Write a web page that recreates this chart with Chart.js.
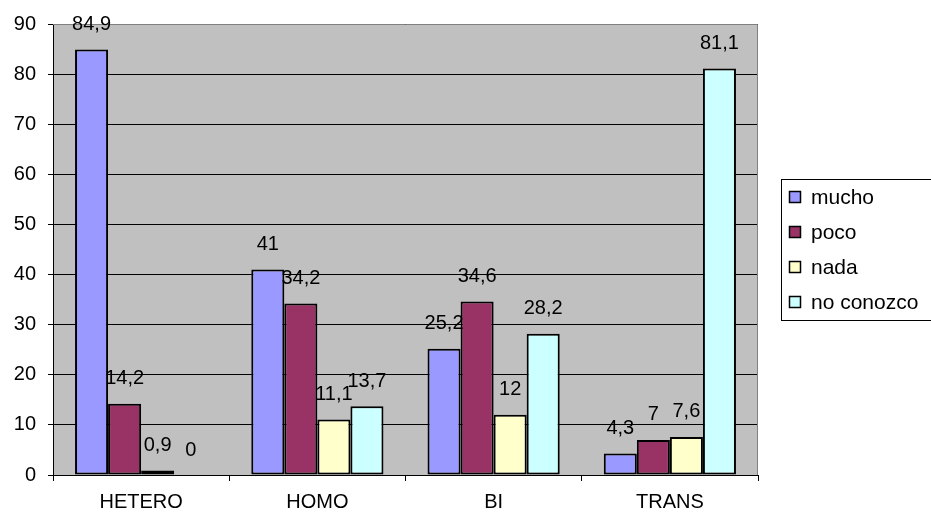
<!DOCTYPE html>
<html>
<head>
<meta charset="utf-8">
<script src="https://cdn.jsdelivr.net/npm/chart.js@4/dist/chart.umd.min.js"></script>
<style>
  html, body { margin: 0; padding: 0; background: #fff; }
  #wrap { width: 931px; height: 514px; }
</style>
</head>
<body>
<div id="wrap"><canvas id="myChart" width="931" height="514"></canvas></div>
<script>
const categories = ['HETERO', 'HOMO', 'BI', 'TRANS']
const seriesNames = ['mucho', 'poco', 'nada', 'no conozco']
const mucho = [84.9, 41, 25.2, 4.3]
const poco = [14.2, 34.2, 34.6, 7]
const nada = [0.9, 11.1, 12, 7.6]
const noConozco = [0, 13.7, 28.2, 81.1]
const yTicks = [0, 10, 20, 30, 40, 50, 60, 70, 80, 90]

const colors = ['#9999FF', '#993366', '#FFFFCC', '#CCFFFF']
const font = 'Liberation Sans, Arial, sans-serif'

const fmt = v => String(v).replace('.', ',')

// gray plot background + gray top/right border
const plotBg = {
  id: 'plotBg',
  beforeDraw(chart) {
    let {ctx, chartArea: a} = chart
    ctx.save()
    ctx.fillStyle = '#C0C0C0'
    ctx.fillRect(a.left, a.top, a.right - a.left, a.bottom - a.top)
    ctx.restore()
  },
  afterDatasetsDraw(chart) {
    let {ctx, chartArea: a} = chart
    ctx.save()
    ctx.strokeStyle = '#808080'
    ctx.lineWidth = 1
    ctx.beginPath()
    ctx.moveTo(a.left, a.top + 0.5)
    ctx.lineTo(a.right - 0.5, a.top + 0.5)
    ctx.lineTo(a.right - 0.5, a.bottom)
    ctx.stroke()
    ctx.restore()
  }
}

// value labels above each bar
const barLabels = {
  id: 'barLabels',
  afterDatasetsDraw(chart) {
    let ctx = chart.ctx
    ctx.save()
    ctx.font = '20px ' + font
    ctx.fillStyle = '#000'
    ctx.textAlign = 'center'
    ctx.textBaseline = 'middle'
    chart.data.datasets.forEach((ds, i) => {
      chart.getDatasetMeta(i).data.forEach((bar, j) => {
        ctx.fillText(fmt(ds.data[j]), bar.x, bar.y - 25)
      })
    })
    ctx.restore()
  }
}

// boxed legend at the right, Excel style
const boxLegend = {
  id: 'boxLegend',
  afterDraw(chart) {
    let ctx = chart.ctx
    ctx.save()
    ctx.strokeStyle = '#000'
    ctx.lineWidth = 1
    ctx.strokeRect(781.5, 179.5, 160, 141)
    ctx.font = '21px ' + font
    ctx.textBaseline = 'middle'
    chart.data.datasets.forEach((ds, i) => {
      let y = 197 + i * 35
      ctx.fillStyle = ds.backgroundColor
      ctx.fillRect(789, y - 6, 12, 12)
      ctx.lineWidth = 1.5
      ctx.strokeRect(789.5, y - 5.5, 11, 11)
      ctx.fillStyle = '#000'
      ctx.fillText(ds.label, 811, y + 1)
    })
    ctx.restore()
  }
}

const seriesData = [mucho, poco, nada, noConozco]

let ctx = document.getElementById('myChart')
let myChart = new Chart(ctx, {
  type: 'bar',
  data: {
    labels: categories,
    datasets: seriesNames.map((name, i) => ({
      label: name,
      data: seriesData[i],
      backgroundColor: colors[i],
      borderColor: '#000',
      borderWidth: 2,
      borderSkipped: false,
      categoryPercentage: 0.75,
      barPercentage: 1
    }))
  },
  plugins: [plotBg, barLabels, boxLegend],
  options: {
    responsive: false,
    animation: false,
    layout: { padding: { left: 0, top: 24, right: 173, bottom: 0 } },
    plugins: {
      legend: { display: false },
      tooltip: { enabled: false }
    },
    scales: {
      x: {
        grid: {
          offset: true,
          drawOnChartArea: false,
          color: '#000',
          tickLength: 6
        },
        border: { color: '#000', width: 1 },
        ticks: { color: '#000', font: { family: font, size: 20 }, padding: 9 },
        afterFit: s => { s.height = 39 }
      },
      y: {
        min: 0,
        max: 90,
        afterBuildTicks: s => { s.ticks = yTicks.map(v => ({value: v})) },
        grid: { color: '#000', tickLength: 5 },
        border: { color: '#000', width: 1 },
        ticks: { color: '#000', font: { family: font, size: 20 }, padding: 12 },
        afterFit: s => { s.width = 53 }
      }
    }
  }
})
</script>
</body>
</html>
